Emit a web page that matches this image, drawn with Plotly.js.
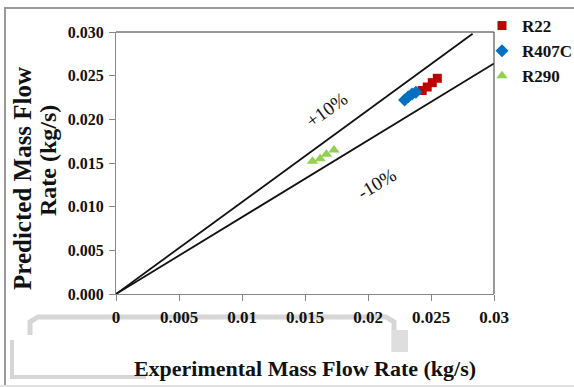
<!DOCTYPE html>
<html>
<head>
<meta charset="utf-8">
<script src="https://cdn.plot.ly/plotly-3.0.1.min.js"></script>
<style>html,body{margin:0;padding:0;background:#fff;}#chart{width:574px;height:387px;}</style>
</head>
<body>
<div id="chart"></div>
<script>
// Data
const r22X = [0.0243, 0.0247, 0.0251, 0.0255];
const r22Y = [0.0233, 0.0237, 0.0242, 0.0247];
const r407cX = [0.0229, 0.0232, 0.0235, 0.0238];
const r407cY = [0.0222, 0.0226, 0.0229, 0.0231];
const r290X = [0.0156, 0.0162, 0.0167, 0.0173];
const r290Y = [0.0152, 0.0155, 0.0160, 0.0165];
const plusLineX = [0, 0.0283];
const plusLineY = [0, 0.0298];
const minusLineX = [0, 0.030];
const minusLineY = [0, 0.0264];
const xTicks = [0, 0.005, 0.01, 0.015, 0.02, 0.025, 0.03];
const xTickText = ['0', '0.005', '0.01', '0.015', '0.02', '0.025', '0.03'];
const yTicks = [0, 0.005, 0.01, 0.015, 0.02, 0.025, 0.03];
const yTickText = ['0.000', '0.005', '0.010', '0.015', '0.020', '0.025', '0.030'];

const L = 116, R = 494, T = 32, B = 294;
const px = v => (v - L) / (R - L);
const py = v => (B - v) / (B - T);
const serif = 'Liberation Serif, Times New Roman, serif';

const traces = [
  {x: plusLineX, y: plusLineY, mode: 'lines', line: {color: '#111', width: 1.8}, showlegend: false, hoverinfo: 'skip'},
  {x: minusLineX, y: minusLineY, mode: 'lines', line: {color: '#111', width: 1.8}, showlegend: false, hoverinfo: 'skip'},
  {x: r22X, y: r22Y, mode: 'markers', name: 'R22', legendgroup: 'a',
   marker: {symbol: 'square', size: 9, color: '#C00000'}},
  {x: r407cX, y: r407cY, mode: 'markers', name: 'R407C', legendgroup: 'b',
   marker: {symbol: 'diamond', size: 10, color: '#0070C0'}},
  {x: r290X, y: r290Y, mode: 'markers', name: 'R290', legendgroup: 'c',
   marker: {symbol: 'triangle-up', size: 10, color: '#92D050'}}
];

const band = '#d6d6d6';
const layout = {
  width: 574, height: 387,
  margin: {l: L, r: 574 - R, t: T, b: 387 - B, pad: 0, autoexpand: false},
  paper_bgcolor: '#fff', plot_bgcolor: '#fff',
  showlegend: true,
  legend: {x: px(482), y: py(8), xanchor: 'left', yanchor: 'top', bgcolor: 'rgba(0,0,0,0)',
           font: {family: serif, size: 17, color: '#111', weight: 'bold'},
           traceorder: 'normal', itemwidth: 30},
  xaxis: {range: [0, 0.03], tickvals: xTicks, ticktext: xTickText, showgrid: false, zeroline: false,
          showline: true, linecolor: '#888', linewidth: 1, mirror: false,
          ticks: 'outside', ticklen: 6, tickcolor: '#888', ticklabelstandoff: 2,
          tickfont: {family: serif, size: 17, color: '#111', weight: 'bold'},
          title: {text: 'Experimental Mass Flow Rate (kg/s)', standoff: 34,
                  font: {family: serif, size: 22, color: '#111', weight: 'bold'}}},
  yaxis: {range: [0, 0.03], tickvals: yTicks, ticktext: yTickText, showgrid: false, zeroline: false,
          showline: true, linecolor: '#888', linewidth: 1,
          ticks: 'outside', ticklen: 6, tickcolor: '#888', ticklabelstandoff: 2,
          tickfont: {family: serif, size: 16, color: '#111', weight: 'bold'}},
  annotations: [
    {xref: 'paper', yref: 'paper', x: px(22), y: py(179), text: 'Predicted Mass Flow', textangle: -90,
     showarrow: false, xanchor: 'center', yanchor: 'middle',
     font: {family: serif, size: 25, color: '#111', weight: 'bold'}},
    {xref: 'paper', yref: 'paper', x: px(48), y: py(161), text: 'Rate (kg/s)', textangle: -90,
     showarrow: false, xanchor: 'center', yanchor: 'middle',
     font: {family: serif, size: 24, color: '#111', weight: 'bold'}},
    {xref: 'x', yref: 'y', x: 0.01675, y: 0.0211, text: '+10%', textangle: -36, showarrow: false,
     font: {family: serif, size: 19, color: '#111'}},
    {xref: 'x', yref: 'y', x: 0.0207, y: 0.0127, text: '-10%', textangle: -31, showarrow: false,
     font: {family: serif, size: 19, color: '#111'}}
  ],
  shapes: [
    // plot frame top/right
    {type: 'line', xref: 'paper', yref: 'paper', x0: 0, y0: 1, x1: 1, y1: 1, line: {color: '#333', width: 1}},
    {type: 'line', xref: 'paper', yref: 'paper', x0: 1, y0: 0, x1: 1, y1: 1, line: {color: '#333', width: 1}},
    // outer chart border
    {type: 'path', xref: 'paper', yref: 'paper', layer: 'below',
     path: `M ${px(5)} ${py(390)} L ${px(5)} ${py(8)} L ${px(580)} ${py(8)}`,
     line: {color: '#9a9a9a', width: 2}},
    // light gray artefact bands
    {type: 'path', xref: 'paper', yref: 'paper', layer: 'below',
     path: `M ${px(30)} ${py(335)} L ${px(30)} ${py(322)} L ${px(38)} ${py(317)} L ${px(386)} ${py(317)} L ${px(394)} ${py(322)} L ${px(394)} ${py(352)}`,
     line: {color: band, width: 5}},
    {type: 'rect', xref: 'paper', yref: 'paper', layer: 'below',
     x0: px(392), x1: px(408), y0: py(330), y1: py(352), fillcolor: '#dedede', line: {width: 0}},
    {type: 'path', xref: 'paper', yref: 'paper', layer: 'below',
     path: `M ${px(12)} ${py(340)} L ${px(12)} ${py(377)} L ${px(146)} ${py(377)}`,
     line: {color: band, width: 4}},
    {type: 'line', xref: 'paper', yref: 'paper', layer: 'below',
     x0: px(0), x1: px(574), y0: py(386), y1: py(386), line: {color: '#e2e2e2', width: 2}}
  ]
};

Plotly.newPlot('chart', traces, layout, {displayModeBar: false, staticPlot: true});
</script>
</body>
</html>
